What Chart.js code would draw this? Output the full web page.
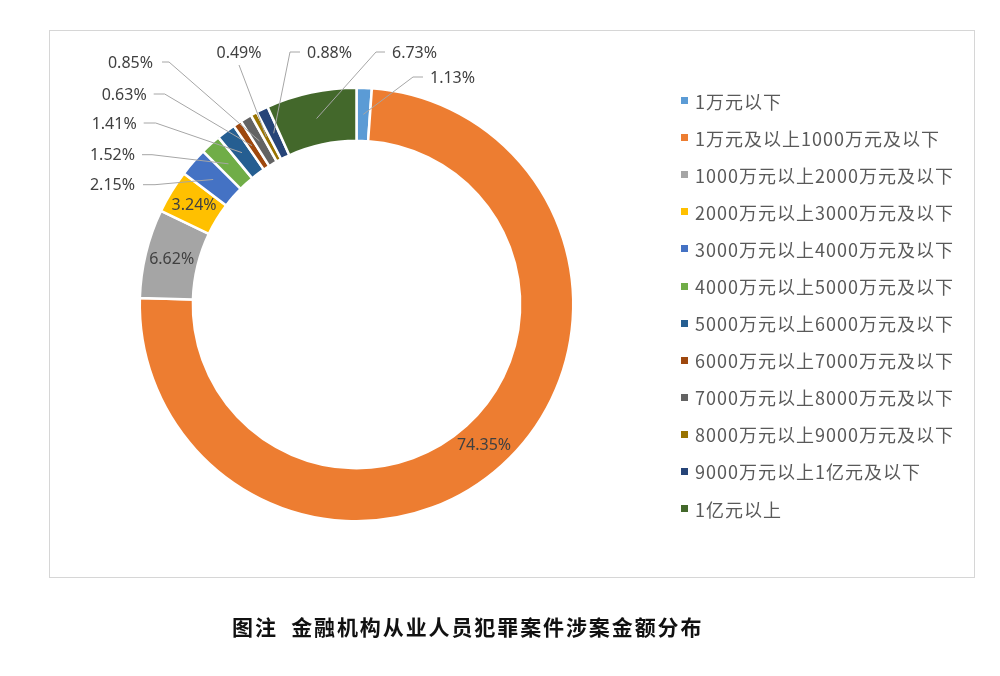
<!DOCTYPE html>
<html>
<head>
<meta charset="utf-8">
<script src="https://cdn.jsdelivr.net/npm/chart.js@4.4.1/dist/chart.umd.min.js"></script>
<style>
  body { margin: 0; background: #fff; width: 1000px; height: 676px; position: relative; overflow: hidden; }
  #frame { position: absolute; left: 49px; top: 30px; width: 924px; height: 546px; border: 1px solid #d6d6d6; }
  #myChart { position: absolute; left: 0; top: 0; }
  #legend { position: absolute; left: 681px; top: 82px; font-family: "Noto Sans CJK SC", sans-serif; }
  .item { height: 37.1px; display: flex; align-items: center; font-size: 18px; color: #595959; letter-spacing: 1px; white-space: nowrap; }
  .box { width: 7px; height: 7px; margin-right: 7px; flex: none; }
  #title { position: absolute; left: 232px; top: 611px; font-family: "Noto Sans CJK SC", sans-serif; font-weight: bold; font-size: 21px; letter-spacing: 1.9px; color: #111; white-space: pre; }
</style>
</head>
<body>
<div id="frame"></div>
<canvas id="myChart" width="1000" height="676"></canvas>
<div id="legend"></div>
<div id="title">图注  金融机构从业人员犯罪案件涉案金额分布</div>
<script>
// 涉案金额区间
const categories = [
  "1万元以下",
  "1万元及以上1000万元及以下",
  "1000万元以上2000万元及以下",
  "2000万元以上3000万元及以下",
  "3000万元以上4000万元及以下",
  "4000万元以上5000万元及以下",
  "5000万元以上6000万元及以下",
  "6000万元以上7000万元及以下",
  "7000万元以上8000万元及以下",
  "8000万元以上9000万元及以下",
  "9000万元以上1亿元及以下",
  "1亿元以上",
];
// 占比 (%)
const shares = [1.13, 74.35, 6.62, 3.24, 2.15, 1.52, 1.41, 0.63, 0.85, 0.49, 0.88, 6.73];

const colors = [
  "#5B9BD5", "#ED7D31", "#A5A5A5", "#FFC000", "#4472C4", "#70AD47",
  "#255E91", "#9E480E", "#636363", "#997300", "#264478", "#43682B",
];

// where each percentage label goes: null = inside the ring,
// otherwise offset from the doughnut centre plus a leader line
const labelPlace = [
  { dx: 73.5, dy: -226.5, align: "left", gap: 7, arm: 10 },
  null,
  null,
  null,
  { dx: -221.5, dy: -118.8, align: "right", gap: 8, arm: 12 },
  { dx: -221.5, dy: -148.8, align: "right", gap: 7, arm: 10 },
  { dx: -219.8, dy: -180.5, align: "right", gap: 7, arm: 12 },
  { dx: -209.8, dy: -209.5, align: "right", gap: 7, arm: 11 },
  { dx: -203.5, dy: -241.5, align: "right", gap: 9, arm: 7 },
  { dx: -117.5, dy: -251.5, align: "center" },
  { dx: -49.5, dy: -251.5, align: "left", gap: 7, arm: 10 },
  { dx: 35.5, dy: -251.5, align: "left", gap: 7, arm: 9 },
];

const pctLabels = {
  id: "pctLabels",
  afterDatasetsDraw(chart) {
    const ctx = chart.ctx;
    const arcs = chart.getDatasetMeta(0).data;
    const cx = arcs[0].x, cy = arcs[0].y;
    ctx.save();
    ctx.font = '16px "Noto Sans", sans-serif';
    ctx.fillStyle = "#404040";
    ctx.strokeStyle = "#a6a6a6";
    ctx.lineWidth = 1;
    ctx.textBaseline = "middle";
    shares.forEach((v, i) => {
      const text = v.toFixed(2) + "%";
      const p = arcs[i].tooltipPosition();
      const pl = labelPlace[i];
      if (!pl) {
        ctx.textAlign = "center";
        ctx.fillText(text, p.x, p.y);
        return;
      }
      const tx = cx + pl.dx, ty = cy + pl.dy;
      ctx.textAlign = pl.align;
      ctx.fillText(text, tx, ty);
      ctx.beginPath();
      if (pl.align === "center") {
        ctx.moveTo(tx, ty + 12);
      } else {
        const dir = pl.align === "left" ? -1 : 1;
        const x0 = tx + dir * pl.gap;
        ctx.moveTo(x0, ty - 1);
        ctx.lineTo(x0 + dir * pl.arm, ty - 1);
      }
      ctx.lineTo(p.x, p.y);
      ctx.stroke();
    });
    ctx.restore();
  },
};

const ctx = document.getElementById("myChart").getContext("2d");
const myChart = new Chart(ctx, {
  type: "doughnut",
  data: {
    labels: categories,
    datasets: [{
      data: shares,
      backgroundColor: colors,
      borderColor: "#ffffff",
      borderWidth: 2.5,
      hoverOffset: 0,
    }],
  },
  options: {
    responsive: false,
    animation: false,
    cutout: "75.5%",
    layout: { padding: { left: 138.5, top: 86.5, right: 425.5, bottom: 153.5 } },
    plugins: {
      legend: { display: false },
      tooltip: { enabled: false },
    },
  },
  plugins: [pctLabels],
});

// legend
const legend = document.getElementById("legend");
categories.forEach((name, i) => {
  const row = document.createElement("div");
  row.className = "item";
  const box = document.createElement("span");
  box.className = "box";
  box.style.background = colors[i];
  row.appendChild(box);
  row.appendChild(document.createTextNode(name));
  legend.appendChild(row);
});
</script>
</body>
</html>
